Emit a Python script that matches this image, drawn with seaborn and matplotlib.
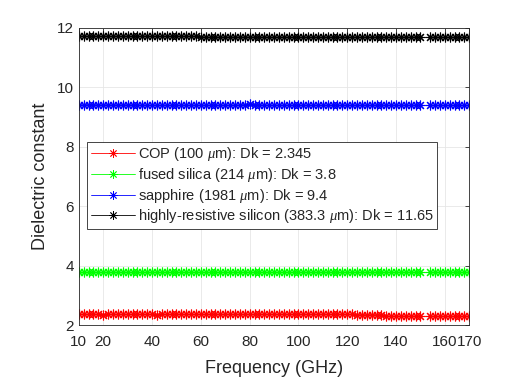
import pandas as pd
import matplotlib.pyplot as plt
import seaborn as sns
from matplotlib.lines import Line2D

# frequency points (GHz); a small gap near 152 GHz between measurement bands
freq = [10, 12, 14, 16, 18, 20, 22, 24, 26, 28,
        30, 32, 34, 36, 38, 40, 42, 44, 46, 48,
        50, 52, 54, 56, 58, 60, 62, 64, 66, 68,
        70, 72, 74, 76, 78, 80, 82, 84, 86, 88,
        90, 92, 94, 96, 98, 100, 102, 104, 106, 108,
        110, 112, 114, 116, 118, 120, 122, 124, 126, 128,
        130, 132, 134, 136, 138, 140, 142, 144, 146, 148,
        150, 154, 156, 158, 160, 162, 164, 166, 168, 170]
band = [0] * 71 + [1] * 9

cop = [2.36, 2.36, 2.36, 2.36, 2.36, 2.35, 2.36, 2.36, 2.36, 2.36,
       2.36, 2.36, 2.36, 2.36, 2.36, 2.36, 2.35, 2.36, 2.36, 2.36,
       2.36, 2.36, 2.36, 2.36, 2.36, 2.36, 2.36, 2.36, 2.36, 2.36,
       2.36, 2.36, 2.36, 2.36, 2.36, 2.36, 2.36, 2.36, 2.36, 2.36,
       2.36, 2.36, 2.36, 2.36, 2.36, 2.36, 2.36, 2.36, 2.36, 2.36,
       2.36, 2.36, 2.36, 2.36, 2.36, 2.36, 2.36, 2.35, 2.35, 2.35,
       2.35, 2.35, 2.34, 2.31, 2.30, 2.30, 2.30, 2.30, 2.30, 2.30,
       2.30, 2.31, 2.31, 2.31, 2.31, 2.31, 2.31, 2.31, 2.31, 2.31]
fused_silica = [3.80, 3.80, 3.80, 3.80, 3.80, 3.80, 3.80, 3.80, 3.80, 3.80,
                3.80, 3.80, 3.80, 3.80, 3.80, 3.80, 3.80, 3.80, 3.80, 3.80,
                3.80, 3.80, 3.80, 3.80, 3.80, 3.80, 3.80, 3.80, 3.80, 3.80,
                3.80, 3.80, 3.80, 3.80, 3.80, 3.80, 3.80, 3.80, 3.80, 3.80,
                3.80, 3.80, 3.80, 3.80, 3.80, 3.80, 3.80, 3.80, 3.80, 3.80,
                3.80, 3.80, 3.80, 3.80, 3.80, 3.80, 3.80, 3.80, 3.80, 3.80,
                3.80, 3.80, 3.80, 3.80, 3.80, 3.80, 3.80, 3.80, 3.80, 3.80,
                3.80, 3.80, 3.80, 3.80, 3.80, 3.80, 3.80, 3.80, 3.80, 3.80]
sapphire = [9.41, 9.41, 9.42, 9.42, 9.41, 9.41, 9.41, 9.41, 9.41, 9.41,
            9.41, 9.41, 9.41, 9.40, 9.40, 9.40, 9.40, 9.40, 9.40, 9.40,
            9.40, 9.40, 9.40, 9.40, 9.40, 9.40, 9.40, 9.40, 9.40, 9.40,
            9.40, 9.40, 9.40, 9.41, 9.42, 9.43, 9.42, 9.41, 9.40, 9.40,
            9.40, 9.40, 9.40, 9.40, 9.40, 9.40, 9.40, 9.40, 9.40, 9.40,
            9.40, 9.40, 9.40, 9.40, 9.40, 9.40, 9.40, 9.40, 9.40, 9.40,
            9.40, 9.40, 9.40, 9.40, 9.40, 9.40, 9.40, 9.40, 9.40, 9.40,
            9.40, 9.40, 9.40, 9.40, 9.40, 9.40, 9.40, 9.40, 9.40, 9.40]
silicon = [11.72, 11.72, 11.72, 11.72, 11.72, 11.72, 11.72, 11.72, 11.72, 11.72,
           11.72, 11.72, 11.72, 11.72, 11.72, 11.72, 11.72, 11.72, 11.72, 11.72,
           11.72, 11.72, 11.72, 11.72, 11.72, 11.70, 11.69, 11.69, 11.69, 11.69,
           11.69, 11.69, 11.69, 11.69, 11.69, 11.69, 11.69, 11.69, 11.69, 11.69,
           11.69, 11.69, 11.69, 11.69, 11.69, 11.69, 11.69, 11.69, 11.69, 11.69,
           11.69, 11.69, 11.69, 11.69, 11.69, 11.69, 11.69, 11.69, 11.69, 11.69,
           11.69, 11.69, 11.69, 11.69, 11.69, 11.69, 11.69, 11.69, 11.69, 11.69,
           11.69, 11.69, 11.69, 11.69, 11.69, 11.69, 11.69, 11.69, 11.69, 11.69]

labels = [r'COP (100 $\mu$m): Dk = 2.345',
          r'fused silica (214 $\mu$m): Dk = 3.8',
          r'sapphire (1981 $\mu$m): Dk = 9.4',
          r'highly-resistive silicon (383.3 $\mu$m): Dk = 11.65']
colors = ['#ff0000', '#00ff00', '#0000ff', '#000000']

xticks = [10, 20, 40, 60, 80, 100, 120, 140, 160, 170]
yticks = [2, 4, 6, 8, 10, 12]

frames = []
for lab, vals in zip(labels, [cop, fused_silica, sapphire, silicon]):
    frames.append(pd.DataFrame({'freq': freq, 'dk': vals,
                                'material': lab, 'band': band}))
df = pd.concat(frames, ignore_index=True)

sns.set_style('white')
plt.rcParams['font.family'] = ['Liberation Sans', 'DejaVu Sans']
plt.rcParams['mathtext.fontset'] = 'custom'
plt.rcParams['mathtext.it'] = 'Liberation Serif:italic'

fig = plt.figure(figsize=(5.29, 3.78), dpi=100)
ax = fig.add_axes([0.149, 0.14, 0.738, 0.786])

star = (8, 2, 0)
for lab, c in zip(labels, colors):
    for b in [0, 1]:
        sub = df[(df['material'] == lab) & (df['band'] == b)]
        sns.lineplot(data=sub, x='freq', y='dk', color=c, marker=star,
                     markersize=7, markeredgewidth=0.8, markeredgecolor=c,
                     linewidth=0.5, estimator=None, sort=False, ax=ax)

ax.set_xlim(10, 170)
ax.set_ylim(2, 12)
ax.set_xticks(xticks)
ax.set_yticks(yticks)
ax.grid(True, color='#e6e6e6', linewidth=0.6)
ax.tick_params(direction='in', length=3, width=0.6, colors='#262626',
               labelsize=11, top=True, right=True)
ax.tick_params(axis='x', pad=7)
for s in ax.spines.values():
    s.set_color('#262626')
    s.set_linewidth(0.6)
ax.set_xlabel('Frequency (GHz)', fontsize=13, color='#262626', labelpad=8)
ax.set_ylabel('Dielectric constant', fontsize=13, color='#262626', labelpad=6)

handles = [Line2D([], [], color=c, marker=star, markersize=6,
                  markeredgewidth=0.6, linewidth=0.6) for c in colors]
leg = ax.legend(handles, labels, loc='upper left',
                bbox_to_anchor=(0.022, 0.617), fontsize=10.5,
                frameon=True, fancybox=False, framealpha=1,
                edgecolor='#262626', handlelength=3.0,
                handletextpad=0.2, labelspacing=0.18, borderpad=0.25,
                borderaxespad=0)
leg.get_frame().set_linewidth(0.6)

fig.savefig('out.png', dpi=100)
plt.close()
